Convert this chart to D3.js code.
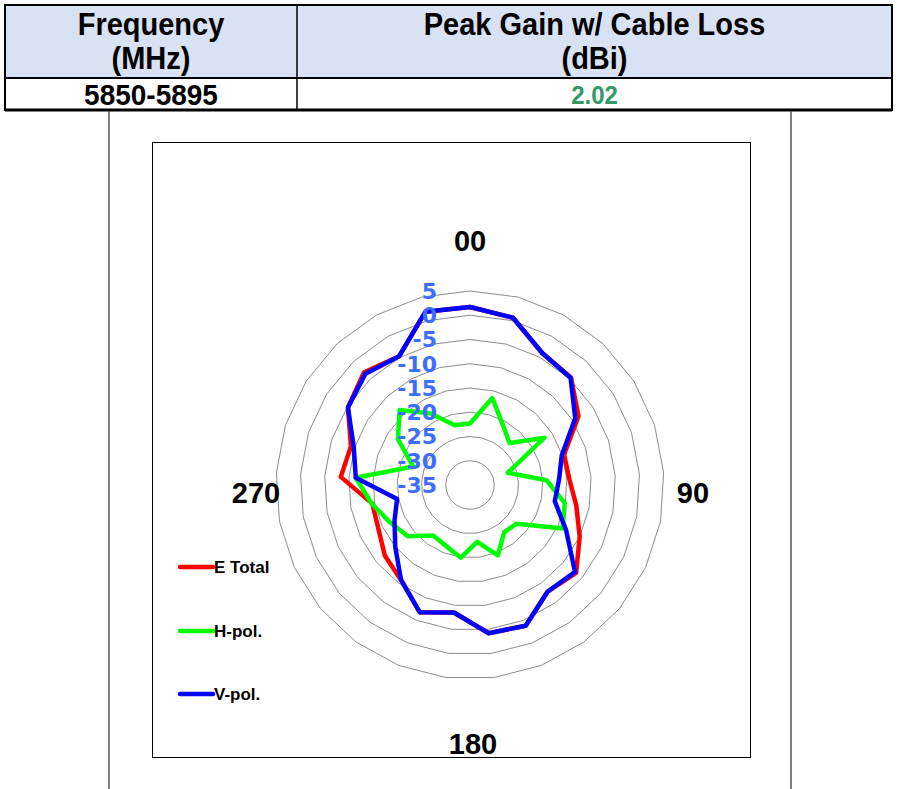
<!DOCTYPE html>
<html>
<head>
<meta charset="utf-8">
<script src="https://cdn.jsdelivr.net/npm/d3@7/dist/d3.min.js"></script>
<style>
  body { margin: 0; background: #fff; }
  text { font-family: "Liberation Sans", Arial, sans-serif; font-weight: bold; }
</style>
</head>
<body>
<svg width="897" height="789"></svg>
<script>
// measurement angles 0..360 every 15 deg -> 25 radar categories (Excel style)
const angles = d3.range(0, 361, 15);

// dBi values, one per angle
const eTotal = [1.7, 0.6, -4.0, -4.6, -8.5, -14.6, -14.5, -12.7, -10.0, -6.6, -7.8, -3.8, -4.2,
                -8.5, -6.8, -10.8, -12.2, -14.1, -14.5, -8.3, -9.2, -5.2, -3.1, -4.7, 1.9];
const hPol   = [-22.3, -16.5, -20.9, -23.1, -16.8, -26.8, -19.2, -15.1, -13.9, -22.5, -23.0, -19.4, -23.2,
                -19.9, -21.5, -22.1, -18.4, -16.8, -14.4, -11.4, -22.7, -17.4, -13.8, -18.2, -22.3];
const vPol   = [1.7, 0.6, -4.0, -4.7, -9.3, -15.1, -16.6, -17.2, -13.1, -6.9, -7.8, -3.8, -4.2,
                -8.5, -6.8, -10.8, -15.0, -17.8, -19.7, -11.4, -9.8, -5.2, -3.5, -4.7, 1.9];

const ticks = [5, 0, -5, -10, -15, -20, -25, -30, -35];
const seriesNames = ["E Total", "H-pol.", "V-pol."];
const seriesColors = ["#ff0000", "#00ff00", "#0000ff"];
const dirLabels = ["00", "90", "180", "270"];

const tableHead = ["Frequency\n(MHz)", "Peak Gain w/ Cable Loss\n(dBi)"];
const tableRow = ["5850-5895", "2.02"];

window.onload = function() {
  drawTable();
  drawChart();
}

function drawTable() {
  let svg = d3.select('svg');
  let x0 = 5, x1 = 892, xc = 297, y0 = 5, ym = 78, y1 = 110;

  svg.append('rect')
    .attr('x', x0).attr('y', y0)
    .attr('width', x1 - x0).attr('height', ym - y0)
    .style('fill', '#d9e2f3');

  // grid of the table
  svg.append('rect')
    .attr('x', x0).attr('y', y0)
    .attr('width', x1 - x0).attr('height', y1 - y0)
    .style('fill', 'none').style('stroke', '#000').style('stroke-width', 2);
  svg.append('line').attr('x1', x0).attr('x2', x1).attr('y1', ym).attr('y2', ym)
    .style('stroke', '#000').style('stroke-width', 2);
  svg.append('line').attr('x1', xc).attr('x2', xc).attr('y1', y0).attr('y2', y1)
    .style('stroke', '#000').style('stroke-width', 1.5);
  svg.append('line').attr('x1', x0).attr('x2', x1).attr('y1', y1).attr('y2', y1)
    .style('stroke', '#000').style('stroke-width', 3);

  // text in the table is a little taller than plain Arial
  let colMid = [(x0 + xc) / 2, (xc + x1) / 2];
  tableHead.forEach((h, i) => {
    h.split('\n').forEach((line, j) => {
      svg.append('text')
        .attr('transform', `translate(${colMid[i]},${35 + j * 34}) scale(1,1.08)`)
        .attr('text-anchor', 'middle')
        .style('font-size', '29px')
        .text(line);
    });
  });
  svg.append('text')
    .attr('transform', `translate(${colMid[0]},105) scale(1,1.08)`)
    .attr('text-anchor', 'middle')
    .style('font-size', '28px')
    .text(tableRow[0]);
  svg.append('text')
    .attr('transform', `translate(${colMid[1]},104) scale(1,1.08)`)
    .attr('text-anchor', 'middle')
    .style('font-size', '24px')
    .style('fill', '#339966')
    .text(tableRow[1]);
}

function drawChart() {
  let svg = d3.select('svg');
  let cx = 470, cy = 485;

  // chart frame + plot area
  svg.append('path')
    .attr('d', 'M109,111V789M791,111V789')
    .style('stroke', '#555').style('stroke-width', 1.5).style('fill', 'none');
  svg.append('rect')
    .attr('x', 152.5).attr('y', 142.5).attr('width', 598).attr('height', 615)
    .style('fill', '#fff').style('stroke', '#000').style('stroke-width', 1);

  let n = angles.length;
  let aScale = d3.scaleLinear().domain([0, n]).range([0, 2 * Math.PI]);
  let rScale = d3.scaleLinear().domain([-35, 5]).range([0, 194]);

  let g = svg.append('g').attr('transform', `translate(${cx},${cy})`);

  // polygon gridlines
  let ring = d3.lineRadial()
    .angle((d, i) => aScale(i))
    .radius(d => rScale(d))
    .curve(d3.curveLinearClosed);
  g.selectAll('.grid')
    .data(ticks.filter(t => t > -35))
    .enter().append('path')
    .attr('class', 'grid')
    .attr('d', t => ring(angles.map(() => t)))
    .style('fill', 'none')
    .style('stroke', '#8c8c8c')
    .style('stroke-width', 1);

  // series
  let series = [eTotal, hPol, vPol];
  let line = d3.lineRadial()
    .angle((d, i) => aScale(i))
    .radius(d => rScale(d))
    .curve(d3.curveLinearClosed);
  g.selectAll('.series')
    .data(series)
    .enter().append('path')
    .attr('class', 'series')
    .attr('d', d => line(d))
    .style('fill', 'none')
    .style('stroke', (d, i) => seriesColors[i])
    .style('stroke-width', 4.5)
    .style('stroke-linejoin', 'round');

  // radial axis labels
  g.selectAll('.tick')
    .data(ticks)
    .enter().append('text')
    .attr('class', 'tick')
    .attr('x', -33)
    .attr('y', d => -rScale(d))
    .attr('dy', '0.36em')
    .attr('text-anchor', 'end')
    .style('font-family', '"DejaVu Sans", Verdana, sans-serif')
    .style('font-size', '22px')
    .style('fill', '#3d6eff')
    .text(d => d);

  // direction labels
  let dirPos = [[0, -234], [223, 18], [3, 269], [-214, 18]];
  g.selectAll('.dir')
    .data(dirLabels)
    .enter().append('text')
    .attr('class', 'dir')
    .attr('x', (d, i) => dirPos[i][0])
    .attr('y', (d, i) => dirPos[i][1])
    .attr('text-anchor', 'middle')
    .style('font-size', '29px')
    .text(d => d);

  // legend
  let legY = [567, 631, 694];
  let leg = svg.selectAll('.legend')
    .data(seriesNames)
    .enter().append('g')
    .attr('class', 'legend')
    .attr('transform', (d, i) => `translate(180,${legY[i]})`);
  leg.append('line')
    .attr('x1', 0).attr('x2', 33).attr('y1', 0).attr('y2', 0)
    .style('stroke', (d, i) => seriesColors[i])
    .style('stroke-width', 4.5)
    .style('stroke-linecap', 'round');
  leg.append('text')
    .attr('x', 34).attr('y', 6)
    .style('font-size', '17px')
    .text(d => d);
}
</script>
</body>
</html>
